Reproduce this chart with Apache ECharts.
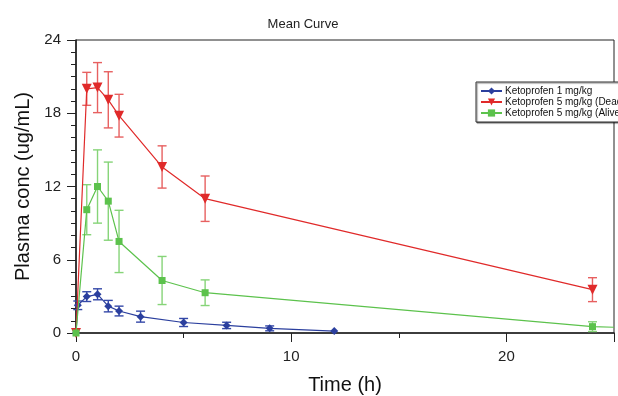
<!DOCTYPE html>
<html>
<head>
<meta charset="utf-8">
<script src="https://cdn.jsdelivr.net/npm/echarts@6/dist/echarts.min.js"></script>
<style>html,body{margin:0;padding:0;background:#fff}#c{width:618px;height:396px}</style>
</head>
<body>
<div id="c"></div>
<script>
const seriesNames = ['Ketoprofen 1 mg/kg', 'Ketoprofen 5 mg/kg (Dead)', 'Ketoprofen 5 mg/kg (Alive)'];

const timeBlue = [0, 0.083, 0.5, 1, 1.5, 2, 3, 5, 7, 9, 12];
const blueMean = [0, 2.27, 2.98, 3.17, 2.2, 1.8, 1.34, 0.86, 0.62, 0.38, 0.16];
const blueErr  = [0, 0.35, 0.4, 0.45, 0.47, 0.4, 0.45, 0.33, 0.26, 0.2, 0];

const timeRed = [0, 0.5, 1, 1.5, 2, 4, 6, 24];
const redMean = [0, 20.0, 20.1, 19.1, 17.8, 13.6, 11.0, 3.55];
const redErr  = [0, 1.35, 2.05, 2.3, 1.75, 1.73, 1.86, 0.98];

const timeGreen = [0, 0.5, 1, 1.5, 2, 4, 6, 24, 25];
const greenMean = [0, 10.1, 12.0, 10.8, 7.5, 4.3, 3.3, 0.52, 0.47];
const greenErr  = [0, 2.05, 3.0, 3.2, 2.55, 1.97, 1.05, 0.4, 0];

const xTicks = [0, 10, 20];
const yTicks = [0, 6, 12, 18, 24];

const colors = ['#2b3f9e', '#e02a2a', '#5cc24c'];
const errColors = ['#3448a8', '#e76060', '#86d478'];

function pts(t, m, hideFrom) {
  return t.map((x, i) => ({
    value: [x, m[i]],
    symbolSize: (hideFrom !== undefined && i >= hideFrom) ? 0 : undefined
  }));
}
function errData(t, m, e) {
  const out = [];
  t.forEach((x, i) => { if (e[i] > 0) out.push([x, m[i] - e[i], m[i] + e[i]]); });
  return out;
}
function errRender(color, cap) {
  return function (params, api) {
    const x = api.value(0), lo = api.value(1), hi = api.value(2);
    const a = api.coord([x, lo]), b = api.coord([x, hi]);
    const st = { stroke: color, lineWidth: 1.4 };
    return {
      type: 'group',
      children: [
        { type: 'line', shape: { x1: a[0], y1: a[1], x2: b[0], y2: b[1] }, style: st },
        { type: 'line', shape: { x1: a[0] - cap, y1: a[1], x2: a[0] + cap, y2: a[1] }, style: st },
        { type: 'line', shape: { x1: b[0] - cap, y1: b[1], x2: b[0] + cap, y2: b[1] }, style: st }
      ]
    };
  };
}

const chart = echarts.init(document.getElementById('c'));
const font = 'Liberation Sans, Arial, Helvetica, sans-serif';
chart.setOption({
  animation: false,
  textStyle: { fontFamily: font },
  title: {
    text: 'Mean Curve', left: 298, top: 13, textAlign: 'center',
    textStyle: { fontSize: 13, fontWeight: 'normal', color: '#222', fontFamily: font }
  },
  legend: {
    orient: 'vertical', left: 476, top: 82,
    padding: [4, 4, 4, 4], itemGap: 1, itemWidth: 21, itemHeight: 9,
    backgroundColor: '#fff', borderColor: '#333', borderWidth: 1,
    shadowColor: 'rgba(0,0,0,0.5)', shadowOffsetX: 1, shadowOffsetY: 1, shadowBlur: 1,
    textStyle: { fontSize: 10, color: '#111', fontFamily: font, padding: [0, 0, 0, -2] },
    data: seriesNames
  },
  grid: {
    left: 76, right: 4, top: 40, bottom: 63,
    outerBoundsMode: 'none', containLabel: false,
    show: true, borderColor: '#222', borderWidth: 1, backgroundColor: 'transparent'
  },
  xAxis: {
    type: 'value', min: 0, max: 25, interval: 10,
    name: 'Time (h)', nameLocation: 'middle', nameGap: 42,
    nameTextStyle: { fontSize: 20, color: '#111', fontFamily: font },
    axisLine: { show: true, lineStyle: { color: '#222', width: 1.6 } },
    axisTick: { show: true, inside: false, length: 9, lineStyle: { color: '#222' } },
    minorTick: { show: true, splitNumber: 2, length: 5, lineStyle: { color: '#222' } },
    axisLabel: { fontSize: 15, color: '#222', margin: 16, fontFamily: font,
      formatter: v => xTicks.includes(v) ? String(v) : '' },
    splitLine: { show: false }
  },
  yAxis: {
    type: 'value', min: 0, max: 24, interval: 6,
    name: 'Plasma conc (ug/mL)', nameLocation: 'middle', nameGap: 43,
    nameTextStyle: { fontSize: 20, color: '#111', fontFamily: font },
    axisLine: { show: true, lineStyle: { color: '#222', width: 1.6 } },
    axisTick: { show: true, inside: false, length: 9, lineStyle: { color: '#222' } },
    minorTick: { show: true, splitNumber: 6, length: 5, lineStyle: { color: '#222' } },
    axisLabel: { fontSize: 15, color: '#222', margin: 15, fontFamily: font,
      formatter: v => yTicks.includes(v) ? String(v) : '' },
    splitLine: { show: false }
  },
  series: [
    { type: 'custom', name: 'errBlue', renderItem: errRender(errColors[0], 4.5), data: errData(timeBlue, blueMean, blueErr), z: 2, silent: true },
    { type: 'custom', name: 'errRed', renderItem: errRender(errColors[1], 4.5), data: errData(timeRed, redMean, redErr), z: 2, silent: true },
    { type: 'custom', name: 'errGreen', renderItem: errRender(errColors[2], 4.5), data: errData(timeGreen, greenMean, greenErr), z: 2, silent: true },
    { type: 'line', name: seriesNames[0], data: pts(timeBlue, blueMean), color: colors[0],
      symbol: 'diamond', symbolSize: 8, showAllSymbol: true, lineStyle: { width: 1.2, color: colors[0] },
      itemStyle: { color: colors[0] }, z: 3 },
    { type: 'line', name: seriesNames[1], data: pts(timeRed, redMean), color: colors[1],
      symbol: 'triangle', symbolRotate: 180, symbolSize: 10, showAllSymbol: true, lineStyle: { width: 1.2, color: colors[1] },
      itemStyle: { color: colors[1] }, z: 4 },
    { type: 'line', name: seriesNames[2], data: pts(timeGreen, greenMean, 8), color: colors[2],
      symbol: 'rect', symbolSize: 7, showAllSymbol: true, lineStyle: { width: 1.2, color: colors[2] },
      itemStyle: { color: colors[2] }, z: 5 }
  ]
});
</script>
</body>
</html>
